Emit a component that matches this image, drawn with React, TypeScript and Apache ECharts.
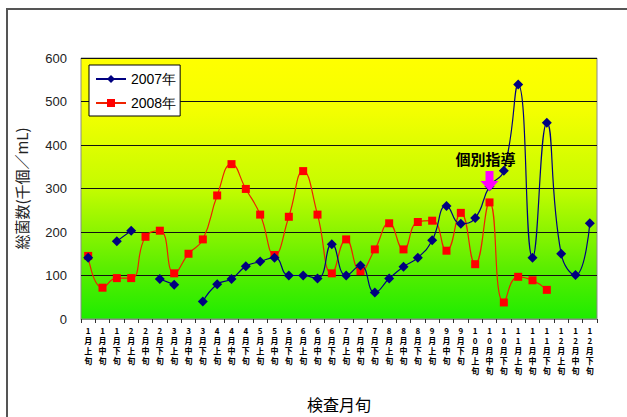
import React, { useEffect, useRef } from "react";
import * as echarts from "echarts";

const months = [1, 2, 3, 4, 5, 6, 7, 8, 9, 10, 11, 12];
const periods = ["上", "中", "下"];
const categories: string[] = [];
months.forEach((m) => periods.forEach((p) => categories.push(`${m}月${p}旬`)));

const yTicks = [0, 100, 200, 300, 400, 500, 600];

const series2007: (number | null)[] = [
  141, null, 179, 203, null, 92, 79, null, 40, 80, 92, 121, 132, 141, 100, 100, 93, 172,
  100, 123, 61, 93, 120, 141, 181, 260, 219, 232, 305, 341, 539, 141, 451, 150, 101, 220,
];
const series2008: (number | null)[] = [
  145, 72, 94, 94, 189, 203, 105, 150, 183, 284, 356, 299, 240, 147, 235, 340, 240, 105,
  183, 110, 160, 220, 160, 223, 226, 157, 244, 126, 268, 38, 97, 89, 67, null, null, null,
];

const annotationText = "個別指導";
const annotationIndex = 28;
const arrowTopValue = 340;
const arrowTipValue = 294;
const textValue = 370;

export default function App() {
  const ref = useRef<HTMLDivElement>(null);
  useEffect(() => {
    if (!ref.current) return;
    const chart = echarts.init(ref.current, null, { renderer: "svg" });
    const font = "'Liberation Sans', Arial, sans-serif";
    chart.setOption({
      animation: false,
      backgroundColor: "#ffffff",
      textStyle: { fontFamily: font },
      grid: {
        left: 81,
        top: 58,
        right: 30,
        bottom: 94,
        show: true,
        borderColor: "#8a8a8a",
        borderWidth: 1,
        backgroundColor: {
          type: "linear",
          x: 0,
          y: 0,
          x2: 0,
          y2: 1,
          colorStops: [
            { offset: 0, color: "#ffff00" },
            { offset: 0.2, color: "#f4ff00" },
            { offset: 0.5, color: "#c4fc00" },
            { offset: 0.8, color: "#5cee00" },
            { offset: 1, color: "#1eec00" },
          ],
        },
      },
      legend: {
        orient: "vertical",
        left: 89,
        top: 65,
        backgroundColor: "#ffffff",
        borderColor: "#000000",
        borderWidth: 1,
        padding: [7, 4, 6, 6],
        itemGap: 10,
        itemWidth: 30,
        itemHeight: 10,
        textStyle: { fontSize: 14, color: "#000", fontFamily: font },
        data: ["2007年", "2008年"],
      },
      xAxis: {
        type: "category",
        data: categories,
        boundaryGap: true,
        name: "検査月旬",
        nameLocation: "middle",
        nameGap: 77,
        nameTextStyle: { fontSize: 16, color: "#000", fontFamily: "'Noto Sans CJK JP', sans-serif" },
        axisLine: { show: true, lineStyle: { color: "#8a8a8a", width: 1 } },
        axisTick: { show: true, length: 4, lineStyle: { color: "#333" } },
        axisLabel: {
          interval: 0,
          fontSize: 8,
          lineHeight: 10,
          margin: 6,
          color: "#000",
          fontWeight: "bold",
          fontFamily: "'Noto Sans CJK JP', sans-serif",
          formatter: (v: string) => v.split("").join("\n"),
          verticalAlign: "top",
        },
        splitLine: { show: false },
      },
      yAxis: {
        type: "value",
        min: 0,
        max: 600,
        interval: 100,
        name: "総菌数(千個／mL)",
        nameLocation: "middle",
        nameGap: 52,
        nameRotate: 90,
        nameTextStyle: { fontSize: 15, color: "#222", fontFamily: "'Noto Sans CJK JP', sans-serif" },
        axisLine: { show: false },
        axisTick: { show: false },
        axisLabel: {
          fontSize: 13,
          color: "#222",
          margin: 14,
          formatter: (v: number) => (yTicks.includes(v) ? String(v) : ""),
        },
        splitLine: { show: true, lineStyle: { color: "#111", width: 1.2 } },
      },
      series: [
        {
          name: "2007年",
          type: "line",
          data: series2007,
          smooth: 0.5,
          connectNulls: false,
          symbol: "diamond",
          symbolSize: 10,
          lineStyle: { color: "#000080", width: 1.2 },
          itemStyle: { color: "#000080" },
          z: 3,
        },
        {
          name: "2008年",
          type: "line",
          data: series2008,
          smooth: 0.5,
          connectNulls: false,
          symbol: "rect",
          symbolSize: 8,
          lineStyle: { color: "#ee2200", width: 1.2 },
          itemStyle: { color: "#ff0000" },
          z: 2,
        },
      ],
    });

    const top = chart.convertToPixel({ gridIndex: 0 }, [annotationIndex, arrowTopValue]) as number[];
    const tip = chart.convertToPixel({ gridIndex: 0 }, [annotationIndex, arrowTipValue]) as number[];
    const txt = chart.convertToPixel({ gridIndex: 0 }, [annotationIndex, textValue]) as number[];
    const cx = top[0];
    const mid = top[1] + (tip[1] - top[1]) * 0.5;
    chart.setOption({
      graphic: [
        {
          type: "rect",
          shape: { x: 7, y: 9, width: 700, height: 500 },
          style: { fill: "none", stroke: "#555", lineWidth: 2 },
          silent: true,
          z: 100,
        },
        {
          type: "polygon",
          shape: {
            points: [
              [cx - 4, top[1]],
              [cx + 4, top[1]],
              [cx + 4, mid],
              [cx + 9, mid],
              [cx, tip[1]],
              [cx - 9, mid],
              [cx - 4, mid],
            ],
          },
          style: { fill: "#ff00ff" },
          z: 100,
        },
        {
          type: "text",
          x: txt[0] - 4,
          y: txt[1],
          style: {
            text: annotationText,
            fontSize: 15,
            fontWeight: "bold",
            fill: "#000",
            align: "center",
            verticalAlign: "middle",
            fontFamily: "'Noto Sans CJK JP', sans-serif",
          },
          z: 100,
        },
      ],
    });
    return () => chart.dispose();
  }, []);
  return <div ref={ref} style={{ position: "absolute", left: 0, top: 0, width: 627, height: 417 }} />;
}
